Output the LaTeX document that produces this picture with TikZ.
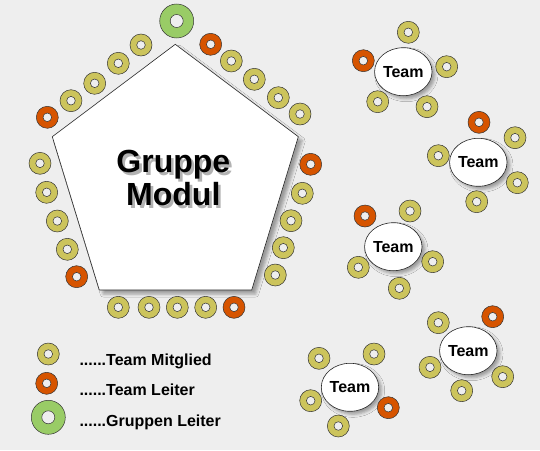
\documentclass[tikz,border=0pt]{standalone}
\usepackage{fontspec}
\setmainfont{Liberation Sans}
\usetikzlibrary{shapes.geometric,shadows.blur}
\definecolor{bgcol}{RGB}{238,238,238}
\definecolor{memcol}{RGB}{204,196,92}
\definecolor{leadcol}{RGB}{214,84,0}
\definecolor{grpcol}{RGB}{153,204,102}
\tikzset{
	ring/.style n args={2}{circle,draw=black!80,line width=.5pt,minimum size=#1,inner sep=0pt,
		path picture={\filldraw[fill=bgcol,draw=black!80,line width=.5pt] (path picture bounding box.center) circle[radius=#2];}},
	member/.style={ring={22pt}{4.3pt},fill=memcol},
	leader/.style={ring={22pt}{4.3pt},fill=leadcol},
	grpleader/.style={ring={34pt}{6.5pt},fill=grpcol},
	team/.style={ellipse,draw=black!85,line width=.6pt,fill=white,minimum width=52pt,minimum height=48pt,inner sep=0pt,
		font=\bfseries\fontsize{16}{18}\selectfont,
		blur shadow={shadow xshift=3pt,shadow yshift=-3pt,shadow blur radius=3pt,shadow opacity=35}},
	title/.style={anchor=base,inner sep=0pt,font=\bfseries\fontsize{32}{34}\selectfont},
	legend/.style={anchor=base west,inner sep=0pt,font=\bfseries\fontsize{16}{18}\selectfont}
}
\begin{document}
\begin{tikzpicture}[x=1pt,y=-1pt]
		\useasboundingbox (0,0) rectangle (540,450);
		\fill[bgcol] (0,0) rectangle (540,450);
		
		\filldraw[fill=white,draw=black!85,line width=.6pt,blur shadow={shadow xshift=4pt,shadow yshift=-4pt,shadow blur radius=3pt,shadow opacity=35}] (175.3,44.3)--(298.3,136.7)--(251.7,290)--(99.3,290)--(52.3,136.7)--cycle;
		\node[title,text=black!30] (gruppeshadow) at (176,175) {Gruppe};
		\node[title,text=black!30] (modulshadow) at (176,208.4) {Modul};
		\node[title] (gruppe) at (173.3,172.3) {Gruppe};
		\node[title] (modul) at (173.3,205.7) {Modul};
		
		\foreach \x/\y [count=\i] in {403.3/71.7, 478.3/162.3, 393.3/246.7, 350/387.3, 468.3/350.7}
			\node[team] (team\i) at (\x,\y) {Team};
		
		\node[grpleader] (gl) at (176.7,21) {};
		\foreach \x/\y [count=\i] in {47.3/117.3, 210.7/44.3, 310.7/164.3, 234/307.3, 76.7/276.7,
			363.3/60.7, 479/122.3, 365/216, 388.3/407.7, 492.7/316.7}
			\node[leader] (l\i) at (\x,\y) {};
		\foreach \x/\y [count=\i] in {141/45, 118.3/63.3, 94.7/83.3, 71/100.7,
			231.3/61, 254.3/79.3, 278.3/97.7, 300/114,
			302.3/193.3, 291/220.7, 283.3/247.7, 275.3/275,
			118.3/307.3, 149/307.3, 177.3/307.3, 205.7/307.3,
			40/163.3, 46.7/192.3, 57.3/221, 67.3/249.3,
			408.3/32.3, 446.7/66.7, 377.7/101.7, 427/106.7,
			515/137.7, 438.3/155.7, 517.3/182.7, 476.7/201.7,
			410/211, 358.3/267.3, 432.7/261.7, 399.3/288.3,
			319/358.3, 374/354, 310.7/400.7, 338.3/426,
			438.3/322.7, 430/367.3, 502.7/376.7, 461.7/390.7}
			\node[member] (m\i) at (\x,\y) {};
		
		\node[member] (keymember) at (48.3,354) {};
		\node[leader] (keyleader) at (46.7,383.3) {};
		\node[grpleader] (keygroup) at (48.3,417.3) {};
		\node[legend] (txtmember) at (79.3,365) {......Team Mitglied};
		\node[legend] (txtleader) at (79.3,395) {......Team Leiter};
		\node[legend] (txtgroup) at (79.3,426.7) {......Gruppen Leiter};
\end{tikzpicture}
\end{document}
